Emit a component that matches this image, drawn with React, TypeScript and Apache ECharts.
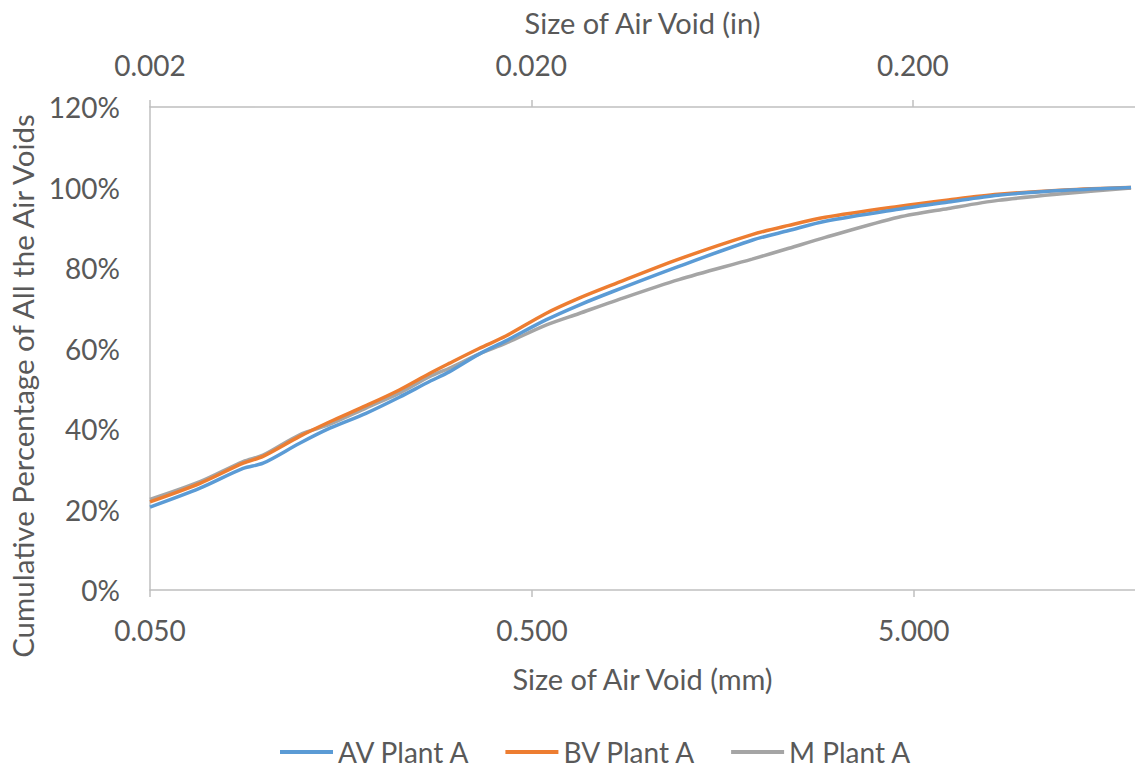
import React, { useEffect, useRef } from "react";
import * as echarts from "echarts";

// Air-void size (mm) at which each reading was taken
const sizesMm = [0.05, 0.0676, 0.0877, 0.0989, 0.123, 0.148, 0.184, 0.225, 0.27, 0.304, 0.364, 0.428, 0.545, 0.666, 0.813, 1.215, 1.89, 2.36, 2.94, 4.57, 6.18, 8.34, 12.5, 18.6];
// Cumulative percentage of all the air voids (%)
const avPlantA = [20.6, 25.3, 30.2, 31.5, 36.4, 40.2, 43.9, 47.9, 51.8, 54.2, 58.6, 61.9, 67.1, 70.8, 74.1, 80.4, 86.9, 89.3, 91.6, 94.6, 96.4, 98.1, 99.3, 100];
const bvPlantA = [21.9, 26.5, 31.5, 33.2, 38.1, 41.8, 45.8, 49.7, 53.8, 56.3, 60.0, 63.1, 68.7, 72.5, 75.8, 82.2, 88.3, 90.6, 92.6, 95.3, 96.9, 98.3, 99.4, 100];
const mPlantA = [22.5, 26.9, 31.9, 33.5, 38.5, 41.2, 45.2, 48.9, 53.0, 55.1, 58.6, 61.3, 65.8, 68.7, 71.6, 77.1, 82.2, 84.9, 87.6, 92.6, 94.8, 96.8, 98.5, 99.9];

const seriesNames = ["AV Plant A", "BV Plant A", "M Plant A"];
const seriesValues = [avPlantA, bvPlantA, mPlantA];
const seriesColors = ["#5B9BD5", "#ED7D31", "#A5A5A5"];

const mmMin = 0.05;
const mmMax = 19.05;
const inMin = 0.002;
const inMax = inMin * (mmMax / mmMin);

const yTitle = "Cumulative Percentage of All the Air Voids";
const xTitleBottom = "Size of Air Void (mm)";
const xTitleTop = "Size of Air Void (in)";

const FONT = "Lato";
const TEXT = "#595959";
const AXIS = "#BFBFBF";

const fmtLog = (v: number) => Number(Number(v).toPrecision(1)).toFixed(3);

export default function App() {
  const ref = useRef<HTMLDivElement>(null);
  useEffect(() => {
    if (!ref.current) return;
    const chart = echarts.init(ref.current, undefined, { renderer: "svg" });
    const axisCommon = {
      type: "log" as const,
      logBase: 10,
      interval: 1,
      axisLine: { show: true, lineStyle: { color: AXIS, width: 1.5 } },
      axisTick: { show: true, length: 7, lineStyle: { color: AXIS, width: 1.5 } },
      splitLine: { show: false },
      minorTick: { show: false },
      nameLocation: "middle" as const,
      nameTextStyle: { fontFamily: FONT, fontSize: 29, color: TEXT },
    };
    chart.setOption({
      animation: false,
      grid: { left: 150, top: 107, bottom: 180, right: -2, containLabel: false },
      xAxis: [
        {
          ...axisCommon,
          position: "bottom",
          min: mmMin,
          max: mmMax,
          name: xTitleBottom,
          nameGap: 74,
          axisLabel: {
            fontFamily: FONT,
            fontSize: 28,
            color: TEXT,
            margin: 26,
            showMaxLabel: false,
            formatter: fmtLog,
          },
        },
        {
          ...axisCommon,
          position: "top",
          min: inMin,
          max: inMax,
          name: xTitleTop,
          nameGap: 70,
          axisLabel: {
            fontFamily: FONT,
            fontSize: 28,
            color: TEXT,
            margin: 28,
            showMaxLabel: false,
            formatter: fmtLog,
          },
        },
      ],
      yAxis: {
        type: "value",
        min: 0,
        max: 120,
        interval: 20,
        axisLine: { show: true, lineStyle: { color: AXIS, width: 1.5 } },
        axisTick: { show: false },
        splitLine: { show: false },
        axisLabel: {
          fontFamily: FONT,
          fontSize: 28,
          color: TEXT,
          margin: 30,
          formatter: "{value}%",
        },
      },
      legend: {
        left: 275,
        top: 733,
        icon: "rect",
        itemWidth: 53,
        itemHeight: 4,
        itemGap: 35,
        textStyle: { fontFamily: FONT, fontSize: 28, color: TEXT },
        data: seriesNames,
      },
      graphic: [
        {
          type: "text",
          x: 22,
          y: 386,
          rotation: Math.PI / 2,
          style: {
            text: yTitle,
            fontFamily: FONT,
            fontSize: 29.5,
            fill: TEXT,
            align: "center",
            verticalAlign: "middle",
          },
        },
      ],
      series: seriesNames.map((name, i) => ({
        name,
        type: "line",
        xAxisIndex: 0,
        yAxisIndex: 0,
        data: sizesMm.map((x, j) => [x, seriesValues[i][j]]),
        showSymbol: false,
        symbol: "none",
        smooth: 0.3,
        lineStyle: { color: seriesColors[i], width: 3.5 },
        itemStyle: { color: seriesColors[i] },
        z: 3 - i,
      })),
    });
    return () => chart.dispose();
  }, []);
  return (
    <div
      ref={ref}
      style={{ position: "absolute", left: 0, top: 0, width: 1135, height: 770 }}
    />
  );
}
